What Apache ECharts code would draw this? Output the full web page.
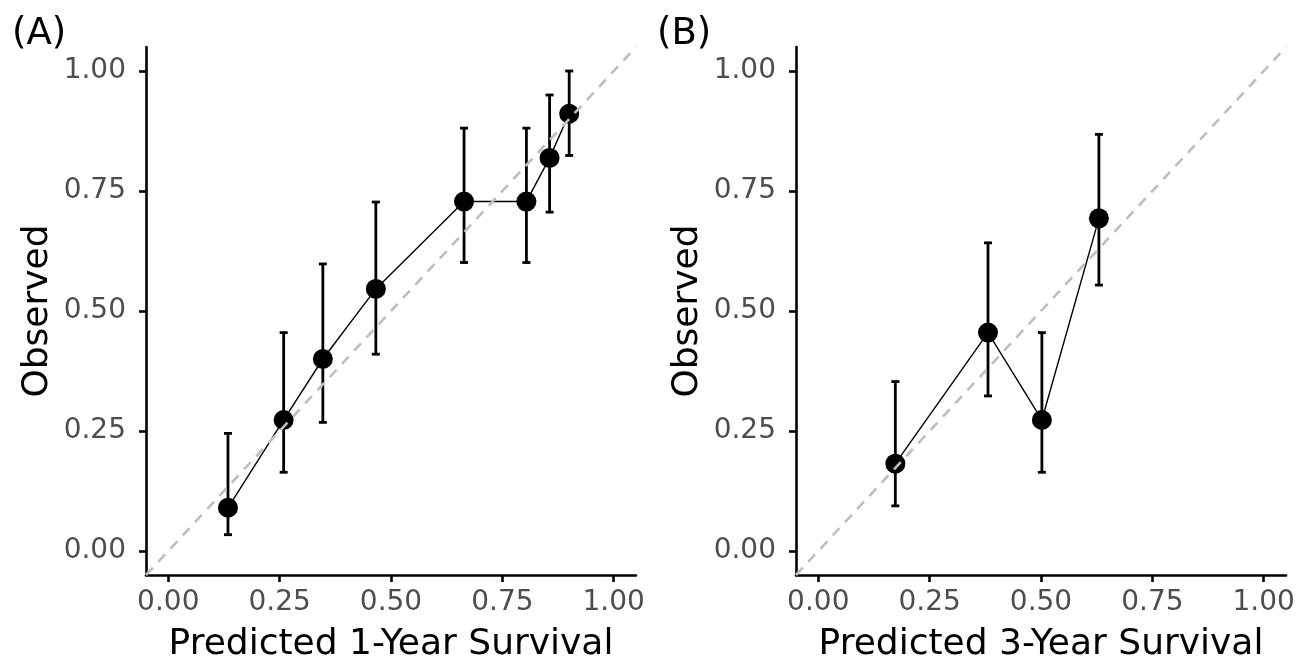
<!DOCTYPE html>
<html>
<head>
<meta charset="utf-8">
<script src="https://cdn.jsdelivr.net/npm/echarts@6/dist/echarts.min.js"></script>
<style>
html,body{margin:0;padding:0;background:#fff;}
#chart{width:1297px;height:656px;}
</style>
</head>
<body>
<div id="chart"></div>
<script>
// Panel A: 1-year survival
const predA = [0.134, 0.259, 0.347, 0.466, 0.664, 0.804, 0.856, 0.900];
const obsA  = [0.090, 0.273, 0.400, 0.546, 0.728, 0.728, 0.819, 0.911];
const lowA  = [0.034, 0.164, 0.268, 0.410, 0.601, 0.601, 0.706, 0.824];
const highA = [0.245, 0.455, 0.598, 0.727, 0.881, 0.881, 0.950, 1.000];
// Panel B: 3-year survival
const predB = [0.173, 0.381, 0.502, 0.630];
const obsB  = [0.182, 0.455, 0.273, 0.693];
const lowB  = [0.094, 0.323, 0.164, 0.554];
const highB = [0.353, 0.642, 0.455, 0.868];
// Axis
const tickValues = [0, 0.25, 0.5, 0.75, 1.0];
const axisMin = -0.05, axisMax = 1.05;
const diagonal = [[-0.05, -0.05], [1.05, 1.05]];
const panelLabels = ['(A)', '(B)'];
const xTitles = ['Predicted 1-Year Survival', 'Predicted 3-Year Survival'];
const yTitle = 'Observed';

const FONT = 'DejaVu Sans';
const chart = echarts.init(document.getElementById('chart'));

function xAxisDef(i) {
  return {
    gridIndex: i, type: 'value', min: axisMin, max: axisMax,
    name: xTitles[i], nameLocation: 'middle', nameGap: 52,
    nameTextStyle: { fontFamily: FONT, fontSize: 36, color: '#000' },
    axisLine: { show: true, onZero: false, lineStyle: { color: '#000', width: 2.6 } },
    axisTick: { show: true, length: 7, customValues: tickValues, lineStyle: { color: '#000', width: 2.6 } },
    axisLabel: { customValues: tickValues, formatter: v => v.toFixed(2), fontFamily: FONT, fontSize: 28, color: '#4d4d4d', margin: 14 },
    splitLine: { show: false }
  };
}
function yAxisDef(i) {
  return {
    gridIndex: i, type: 'value', min: axisMin, max: axisMax,
    name: yTitle, nameLocation: 'middle', nameGap: 90,
    nameTextStyle: { fontFamily: FONT, fontSize: 36, color: '#000' },
    axisLine: { show: true, onZero: false, lineStyle: { color: '#000', width: 2.6 } },
    axisTick: { show: true, length: 7, customValues: tickValues, lineStyle: { color: '#000', width: 2.6 } },
    axisLabel: { customValues: tickValues, formatter: v => v.toFixed(2), fontFamily: FONT, fontSize: 28, color: '#4d4d4d', margin: 20 },
    splitLine: { show: false }
  };
}

function errorSeries(i, xs, lo, hi) {
  return {
    type: 'custom', xAxisIndex: i, yAxisIndex: i, z: 2,
    data: xs.map((x, k) => [x, lo[k], hi[k]]),
    renderItem: function (params, api) {
      const pLo = api.coord([api.value(0), api.value(1)]);
      const pHi = api.coord([api.value(0), api.value(2)]);
      const hw = 4;
      const st = { stroke: '#000', lineWidth: 2.8 };
      return {
        type: 'group',
        children: [
          { type: 'line', shape: { x1: pLo[0], y1: pLo[1], x2: pHi[0], y2: pHi[1] }, style: st },
          { type: 'line', shape: { x1: pLo[0] - hw, y1: pLo[1], x2: pLo[0] + hw, y2: pLo[1] }, style: st },
          { type: 'line', shape: { x1: pHi[0] - hw, y1: pHi[1], x2: pHi[0] + hw, y2: pHi[1] }, style: st }
        ]
      };
    },
    silent: true
  };
}
function lineSeries(i, xs, ys) {
  return {
    type: 'line', xAxisIndex: i, yAxisIndex: i, z: 3,
    data: xs.map((x, k) => [x, ys[k]]),
    symbol: 'circle', symbolSize: 20,
    itemStyle: { color: '#000' },
    lineStyle: { color: '#000', width: 1.4 },
    silent: true, animation: false
  };
}
function diagSeries(i) {
  return {
    type: 'line', xAxisIndex: i, yAxisIndex: i, z: 5,
    data: diagonal, symbol: 'none',
    lineStyle: { color: '#bebebe', width: 2.6, type: [10, 8] },
    silent: true, animation: false
  };
}

const option = {
  backgroundColor: '#fff',
  animation: false,
  grid: [
    { left: 146, top: 47, width: 490, height: 528, containLabel: false, outerBoundsMode: 'none' },
    { left: 796, top: 47, width: 490, height: 528, containLabel: false, outerBoundsMode: 'none' }
  ],
  xAxis: [xAxisDef(0), xAxisDef(1)],
  yAxis: [yAxisDef(0), yAxisDef(1)],
  graphic: [
    { type: 'text', left: 12, top: 16, style: { text: panelLabels[0], fontFamily: FONT, fontSize: 37, fill: '#000' } },
    { type: 'text', left: 657, top: 16, style: { text: panelLabels[1], fontFamily: FONT, fontSize: 37, fill: '#000' } }
  ],
  series: [
    errorSeries(0, predA, lowA, highA),
    lineSeries(0, predA, obsA),
    diagSeries(0),
    errorSeries(1, predB, lowB, highB),
    lineSeries(1, predB, obsB),
    diagSeries(1)
  ]
};
chart.setOption(option);
</script>
</body>
</html>
